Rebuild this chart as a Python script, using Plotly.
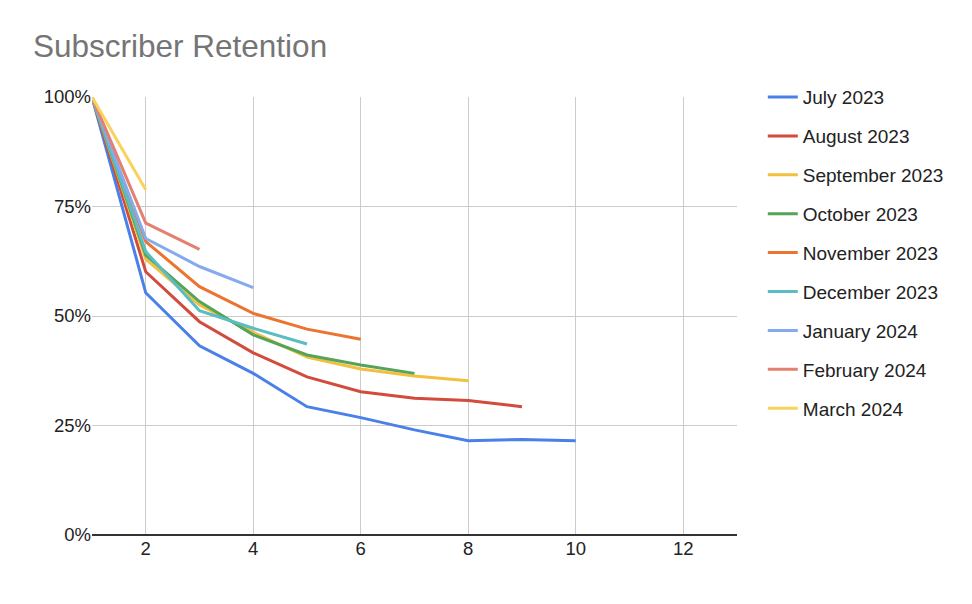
import plotly.graph_objects as go

series_names = ["July 2023", "August 2023", "September 2023", "October 2023",
                "November 2023", "December 2023", "January 2024", "February 2024", "March 2024"]
july_2023 = [1.00, 0.553, 0.432, 0.369, 0.293, 0.268, 0.240, 0.215, 0.218, 0.215]
august_2023 = [1.00, 0.601, 0.487, 0.416, 0.361, 0.327, 0.312, 0.307, 0.293]
september_2023 = [1.00, 0.630, 0.525, 0.463, 0.406, 0.379, 0.363, 0.352]
october_2023 = [1.00, 0.639, 0.533, 0.457, 0.411, 0.388, 0.369]
november_2023 = [1.00, 0.670, 0.567, 0.506, 0.470, 0.447]
december_2023 = [1.00, 0.647, 0.512, 0.472, 0.436]
january_2024 = [1.00, 0.677, 0.613, 0.565]
february_2024 = [1.00, 0.712, 0.652]
march_2024 = [1.00, 0.788]
all_series = [july_2023, august_2023, september_2023, october_2023, november_2023,
              december_2023, january_2024, february_2024, march_2024]
colors = ["#4a80e8", "#d24b3c", "#f2bf3e", "#55a45a", "#ec7431",
          "#5bbcc3", "#85aaf0", "#e4806f", "#f9d25e"]
x_ticks = [2, 4, 6, 8, 10, 12]
y_ticks = [0, 0.25, 0.5, 0.75, 1.0]

FONT = "Arial, Liberation Sans, sans-serif"

fig = go.Figure()
for i, (name, vals) in enumerate(zip(series_names, all_series)):
    fig.add_trace(go.Scatter(
        x=list(range(1, len(vals) + 1)), y=vals, name=name, mode="lines",
        line=dict(color=colors[i], width=3), legendgroup=f"g{i}",
    ))

fig.update_layout(
    width=972, height=604,
    margin=dict(l=84, r=243, t=89, b=77),
    paper_bgcolor="white", plot_bgcolor="white",
    font=dict(family=FONT, color="#222222", size=18),
    title=dict(text="Subscriber Retention", x=25/972, xanchor="left",
               y=1 - 38/604, yanchor="middle",
               font=dict(family=FONT, size=31.5, color="#757575")),
    legend=dict(x=1.040, xanchor="left", y=1.043, yanchor="top",
                traceorder="grouped", tracegroupgap=11.2, maxheight=1,
                font=dict(family=FONT, size=19, color="#222222"),
                bgcolor="rgba(0,0,0,0)"),
    xaxis=dict(range=[1, 13], tickvals=x_ticks, showgrid=True, gridcolor="#cccccc",
               gridwidth=1, zeroline=False, showline=False, ticks="",
               tickfont=dict(size=18.5, color="#222222")),
    yaxis=dict(range=[0, 1.0], tickvals=y_ticks, tickformat=".0%", showgrid=True,
               gridcolor="#cccccc", gridwidth=1, zeroline=True, zerolinecolor="#333333",
               zerolinewidth=1.5, showline=False, ticks="", ticklen=0,
               tickfont=dict(size=18.5, color="#222222")),
)

fig.write_html("out.html")
